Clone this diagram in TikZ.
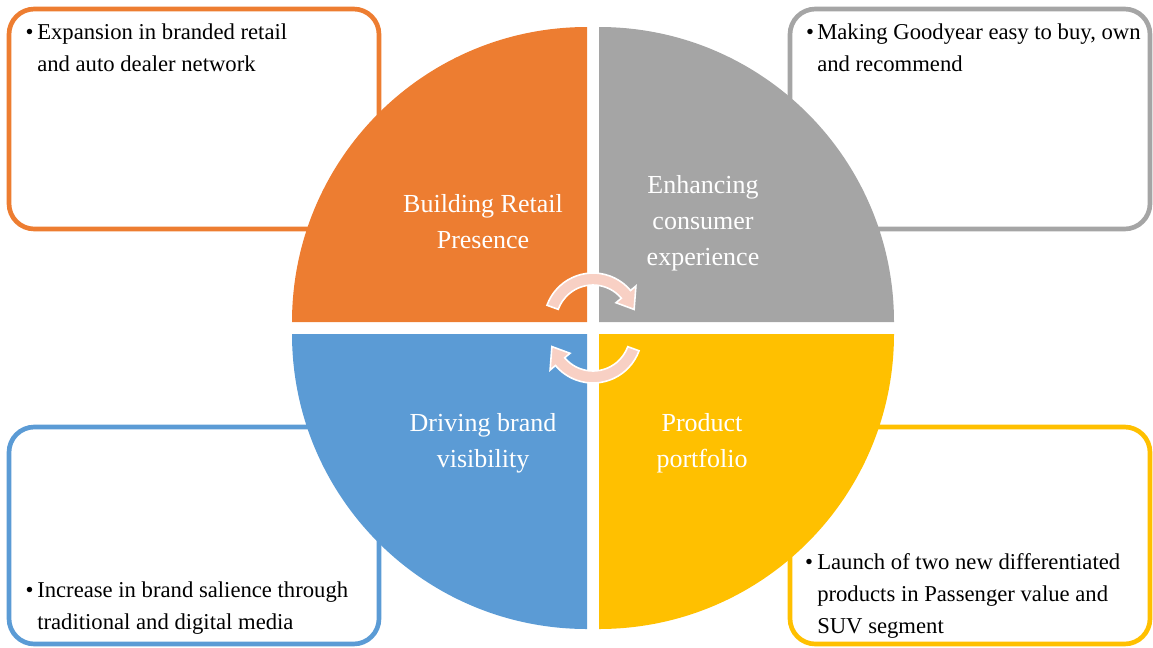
\documentclass[tikz,border=0pt]{standalone}
\usepackage{fontspec}
\setmainfont{Liberation Serif}
\usetikzlibrary{calc}
\definecolor{cOrange}{HTML}{ED7D31}
\definecolor{cGray}{HTML}{A5A5A5}
\definecolor{cBlue}{HTML}{5B9BD5}
\definecolor{cYellow}{HTML}{FFC000}
\definecolor{cPink}{HTML}{F8D0C4}
\begin{document}
\begin{tikzpicture}[x=0.75pt,y=-0.75pt,
  box/.style={line width=3.5pt, rounded corners=19pt, fill=white, inner sep=0pt},
  bul/.style={anchor=base, inner sep=0pt, font=\fontsize{17}{24}\selectfont},
  txt/.style={anchor=base west, inner sep=0pt, align=left, font=\fontsize{17}{24}\selectfont},
  lab/.style={text=white, align=center, inner sep=0pt, font=\fontsize{19.5}{27}\selectfont},
  arr/.style={fill=cPink, draw=white, line width=1.2pt}]
\useasboundingbox (0,0) rectangle (1153,647);
% boxes
\node[box, draw=cOrange, minimum width=277.5pt, minimum height=165pt] (bo) at (194,119) {};
\node[box, draw=cGray, minimum width=270pt, minimum height=165pt] (bg) at (970,119) {};
\node[box, draw=cBlue, minimum width=277.5pt, minimum height=162.75pt] (bb) at (194,535.5) {};
\node[box, draw=cYellow, minimum width=270pt, minimum height=162.75pt] (by) at (970,535.5) {};
% quadrants
\fill[cOrange] (587,322) -- (292,322) arc[start angle=180, end angle=270, radius=295] -- cycle;
\fill[cGray] (599,322) -- (599,27) arc[start angle=270, end angle=360, radius=295] -- cycle;
\fill[cYellow] (599,334) -- (894,334) arc[start angle=0, end angle=90, radius=295] -- cycle;
\fill[cBlue] (587,334) -- (587,629) arc[start angle=90, end angle=180, radius=295] -- cycle;
% circular arrows
\coordinate (ct) at (593,322);
\coordinate (cb) at (593,334);
\filldraw[arr] ($(ct)+(-160:49)$) arc[start angle=-160, end angle=-40, radius=49]
  -- ($(ct)+(-40:56)$) -- ($(ct)+(-17:43)$) -- ($(ct)+(-40:30)$) -- ($(ct)+(-40:37)$)
  arc[start angle=-40, end angle=-160, radius=37] -- cycle;
\filldraw[arr] ($(cb)+(20:49)$) arc[start angle=20, end angle=140, radius=49]
  -- ($(cb)+(140:56)$) -- ($(cb)+(163:43)$) -- ($(cb)+(140:30)$) -- ($(cb)+(140:37)$)
  arc[start angle=140, end angle=20, radius=37] -- cycle;
% labels
\node[lab] (lo) at (483,222) {Building Retail\\Presence};
\node[lab] (lg) at (703,223) {Enhancing\\consumer\\experience};
\node[lab] (lb) at (483,443) {Driving brand\\visibility};
\node[lab] (ly) at (702,443) {Product\\portfolio};
% bullet texts (anchored at the baseline of the last line)
\node[bul] (bo1) at (29.5,39) {\textbullet};
\node[txt] (to) at (37,71) {Expansion in branded retail\\and auto dealer network};
\node[bul] (bg1) at (810,39) {\textbullet};
\node[txt] (tg) at (817,71) {Making Goodyear easy to buy, own\\and recommend};
\node[bul] (bb1) at (29.5,597) {\textbullet};
\node[txt] (tb) at (37,629) {Increase in brand salience through\\traditional and digital media};
\node[bul] (by1) at (809,569) {\textbullet};
\node[txt] (ty) at (817,633) {Launch of two new differentiated\\products in Passenger value and\\SUV segment};
\end{tikzpicture}
\end{document}
